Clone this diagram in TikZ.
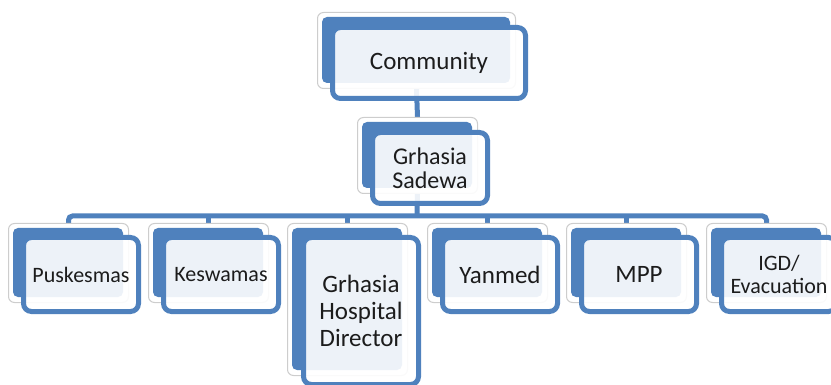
\documentclass[tikz,border=0pt]{standalone}
\usepackage{fontspec}
\setmainfont{Carlito}
\usetikzlibrary{backgrounds}
\definecolor{unitblue}{RGB}{79,129,189}
\definecolor{cardgrey}{RGB}{205,205,205}
\definecolor{txt}{RGB}{28,28,28}
\tikzset{
  backcard/.style={draw=cardgrey, line width=0.5pt, fill=white, rounded corners=3pt, inner sep=0pt},
  frontbox/.style={draw=unitblue, line width=2.5pt, fill=white, fill opacity=0.9, text opacity=1,
    draw opacity=1, rounded corners=4pt, inner sep=0pt, align=center, text=txt},
  conn/.style={draw=unitblue, line width=2.5pt, rounded corners=2pt},
}
\newcommand\orgunit[9]{%
  \node[backcard, anchor=north west, minimum width=#4*0.5pt, minimum height=#5*0.5pt] (#1b) at (#2,#3) {};
  \fill[unitblue, rounded corners=2.5pt] (#2+5,#3+5) rectangle (#2+#4-5,#3+#5-5);
  \node[frontbox, font=#9, minimum width=(#4-5)*0.5pt, minimum height=(#5-5)*0.5pt] (#1) at (#2+#6+#4/2,#3+#7+#5/2) {#8};
}
\newcommand\fsbig{\fontsize{12.5}{13.5}\selectfont}
\newcommand\fsmid{\fontsize{12}{12}\selectfont}
\newcommand\fssmall{\fontsize{11}{11.5}\selectfont}
\begin{document}
\begin{tikzpicture}[x=0.5pt,y=-0.5pt]
\useasboundingbox (0,0) rectangle (831,385);
\orgunit{comm}{317}{12}{198}{76}{13}{13}{Community}{\fsbig}
\orgunit{sad}{357}{117}{120}{76}{13}{13}{Grhasia\\Sadewa}{\fsmid}
\orgunit{pusk}{8}{223}{120}{79}{13}{12}{Puskesmas}{\fssmall}
\orgunit{kesw}{148}{223}{120}{79}{13}{12}{Keswamas}{\fssmall}
\orgunit{hosp}{287}{223}{120}{152}{14}{12}{Grhasia\\Hospital\\Director}{\fsbig}
\orgunit{yan}{427}{223}{120}{79}{13}{12}{Yanmed}{\fsbig}
\orgunit{mpp}{566}{223}{120}{79}{13}{12}{MPP}{\fsbig}
\orgunit{igd}{706}{223}{120}{79}{13}{12}{IGD/\\Evacuation}{\fssmall}
\coordinate (bus) at (417,216);
\begin{pgfonlayer}{background}
  \draw[conn] (commb.south) -- (sadb.north);
  \draw[conn] (sadb.south) -- (bus);
  \draw[conn] (puskb.north) |- (bus) -| (igdb.north);
  \draw[conn] (keswb.north) -- (keswb.north |- bus);
  \draw[conn] (hospb.north) -- (hospb.north |- bus);
  \draw[conn] (yanb.north) -- (yanb.north |- bus);
  \draw[conn] (mppb.north) -- (mppb.north |- bus);
\end{pgfonlayer}
\end{tikzpicture}
\end{document}
